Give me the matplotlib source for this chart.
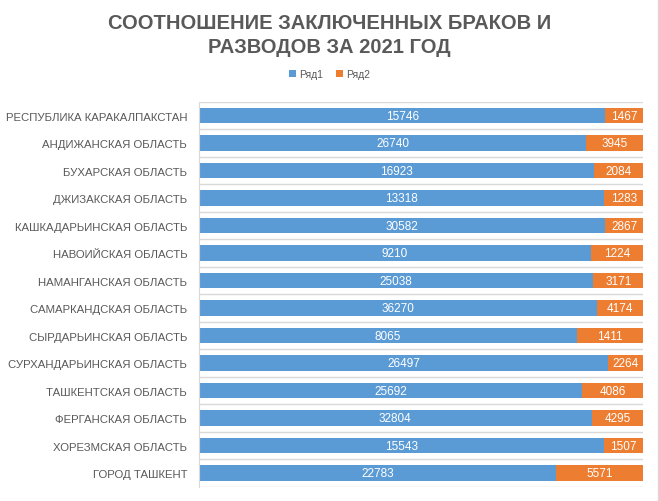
import numpy as np
import matplotlib.pyplot as plt
from matplotlib.lines import Line2D

regions = ['РЕСПУБЛИКА КАРАКАЛПАКСТАН', 'АНДИЖАНСКАЯ ОБЛАСТЬ', 'БУХАРСКАЯ ОБЛАСТЬ',
           'ДЖИЗАКСКАЯ ОБЛАСТЬ', 'КАШКАДАРЬИНСКАЯ ОБЛАСТЬ', 'НАВОИЙСКАЯ ОБЛАСТЬ',
           'НАМАНГАНСКАЯ ОБЛАСТЬ', 'САМАРКАНДСКАЯ ОБЛАСТЬ', 'СЫРДАРЬИНСКАЯ ОБЛАСТЬ',
           'СУРХАНДАРЬИНСКАЯ ОБЛАСТЬ', 'ТАШКЕНТСКАЯ ОБЛАСТЬ', 'ФЕРГАНСКАЯ ОБЛАСТЬ',
           'ХОРЕЗМСКАЯ ОБЛАСТЬ', 'ГОРОД ТАШКЕНТ']
row1 = [15746, 26740, 16923, 13318, 30582, 9210, 25038, 36270, 8065, 26497, 25692, 32804, 15543, 22783]
row2 = [1467, 3945, 2084, 1283, 2867, 1224, 3171, 4174, 1411, 2264, 4086, 4295, 1507, 5571]

blue = '#5b9bd5'
orange = '#ed7d31'
grey = '#595959'

plt.rcParams['font.family'] = ['Liberation Sans', 'DejaVu Sans']

fig = plt.figure(figsize=(6.59, 5.02), dpi=100)
ax = fig.add_axes([0.302, 0.028, 0.674, 0.767])

r1 = np.array(row1, dtype=float)
r2 = np.array(row2, dtype=float)
tot = r1 + r2
y = np.arange(len(regions))
h = 0.56

ax.barh(y, r1 / tot, height=h, color=blue, label='Ряд1')
ax.barh(y, r2 / tot, left=r1 / tot, height=h, color=orange, label='Ряд2')

for i in range(len(regions)):
    ax.text(r1[i] / tot[i] / 2, y[i], str(row1[i]), ha='center', va='center',
            color='white', fontsize=8.5)
    ax.text(r1[i] / tot[i] + r2[i] / tot[i] / 2, y[i], str(row2[i]), ha='center',
            va='center', color='white', fontsize=8.5)

ax.set_xlim(0, 1)
ax.set_ylim(len(regions) - 0.5, -0.5)
ax.set_xticks([])
ax.set_yticks(y)
ax.set_yticklabels(regions)
for lab in ax.get_yticklabels():
    lab.set_color(grey)
    lab.set_fontsize(8.2)
ax.tick_params(axis='y', length=0, pad=8.5)

for b in np.arange(-0.5, len(regions), 1.0):
    ax.axhline(b, color='#d9d9d9', lw=1, zorder=0)

for s in ['top', 'right', 'bottom']:
    ax.spines[s].set_visible(False)
ax.spines['left'].set_color('#d9d9d9')

fig.suptitle('СООТНОШЕНИЕ ЗАКЛЮЧЕННЫХ БРАКОВ И\nРАЗВОДОВ ЗА 2021 ГОД', y=0.972,
             fontsize=14.5, fontweight='bold', color=grey, linespacing=1.35)

fig.legend(loc='center', bbox_to_anchor=(0.5, 0.851), ncol=2, frameon=False,
           fontsize=7.5, handlelength=0.7, handleheight=0.7, handletextpad=0.3,
           columnspacing=1.2, labelcolor=grey)

fig.add_artist(Line2D([0.998, 0.998], [0, 1], transform=fig.transFigure,
                      color='#d9d9d9', lw=1))

fig.savefig('out.png', dpi=100)
